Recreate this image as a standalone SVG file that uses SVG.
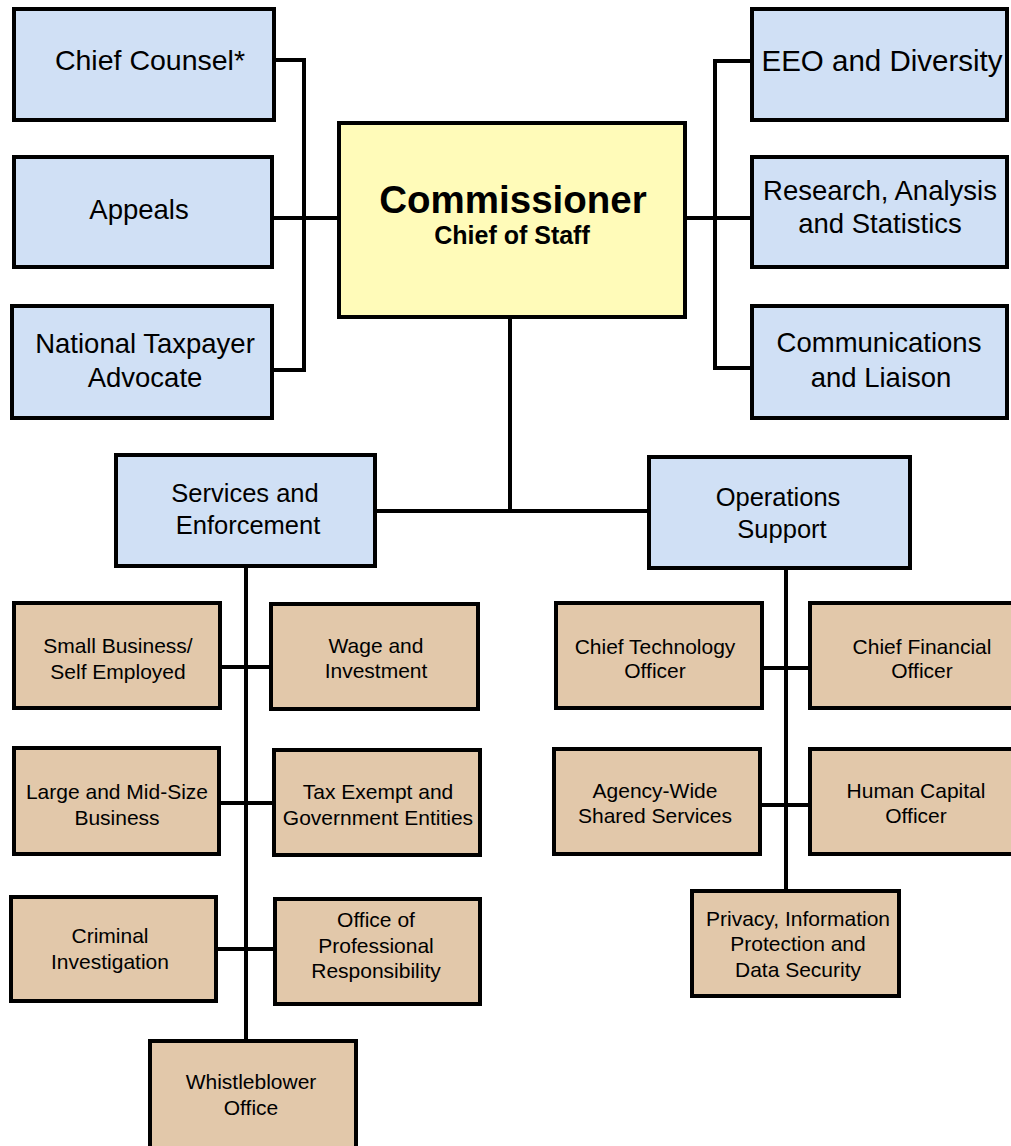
<svg xmlns="http://www.w3.org/2000/svg" width="1011" height="1146" viewBox="0 0 1011 1146">
  <style>
    .box rect { stroke: #000; stroke-width: 4; }
    .blue rect { fill: #D0E0F5; }
    .tan rect { fill: #E2C8AA; }
    .head rect { fill: #FFFBB9; }
    text { font-family: "Liberation Sans", Arial, sans-serif; fill: #000; text-anchor: middle; }
    .t1 { font-size: 27.5px; }
    .t2 { font-size: 25.5px; }
    .t3 { font-size: 21px; }
    .big { font-size: 38.5px; font-weight: bold; }
    .sub { font-size: 25px; font-weight: bold; }
    #connectors path { fill: none; stroke: #000; stroke-width: 4; }
  </style>
  <rect width="1011" height="1146" fill="#fff"/>

  <g id="connectors">
    <path d="M276,60 H304 V370 H274"/>
    <path d="M274,218 H339"/>
    <path d="M752,61 H715 V368 H752"/>
    <path d="M687,218 H752"/>
    <path d="M510,319 V511"/>
    <path d="M377,511 H649"/>
    <path d="M246,568 V1041"/>
    <path d="M222,667 H271"/>
    <path d="M221,803 H274"/>
    <path d="M218,949 H275"/>
    <path d="M786,570 V891"/>
    <path d="M764,668 H810"/>
    <path d="M762,805 H810"/>
  </g>

  <g id="commissioner" class="box head">
    <rect x="339" y="123" width="346" height="194"/>
    <text class="big" x="513" y="213">Commissioner</text>
    <text class="sub" x="512" y="244">Chief of Staff</text>
  </g>

  <g id="chief-counsel" class="box blue">
    <rect x="14" y="9" width="260" height="111"/>
    <text class="t1" x="150" y="70" style="font-size:28.5px">Chief Counsel*</text>
  </g>
  <g id="appeals" class="box blue">
    <rect x="14" y="157" width="258" height="110"/>
    <text class="t1" x="139" y="219">Appeals</text>
  </g>
  <g id="national-taxpayer-advocate" class="box blue">
    <rect x="12" y="306" width="260" height="112"/>
    <text class="t1" x="145" y="353">National Taxpayer</text>
    <text class="t1" x="145" y="387">Advocate</text>
  </g>

  <g id="eeo-diversity" class="box blue">
    <rect x="752" y="9" width="255" height="111"/>
    <text class="t1" x="882" y="71" style="font-size:29.5px">EEO and Diversity</text>
  </g>
  <g id="research-analysis-statistics" class="box blue">
    <rect x="752" y="157" width="255" height="110"/>
    <text class="t1" x="880" y="200">Research, Analysis</text>
    <text class="t1" x="880" y="233">and Statistics</text>
  </g>
  <g id="communications-liaison" class="box blue">
    <rect x="752" y="306" width="255" height="112"/>
    <text class="t1" x="879" y="352">Communications</text>
    <text class="t1" x="881" y="387">and Liaison</text>
  </g>

  <g id="services-enforcement" class="box blue">
    <rect x="116" y="455" width="259" height="111"/>
    <text class="t2" x="245" y="502">Services and</text>
    <text class="t2" x="248" y="534">Enforcement</text>
  </g>
  <g id="operations-support" class="box blue">
    <rect x="649" y="457" width="261" height="111"/>
    <text class="t2" x="778" y="506">Operations</text>
    <text class="t2" x="782" y="538">Support</text>
  </g>

  <g id="small-business-self-employed" class="box tan">
    <rect x="14" y="603" width="206" height="105"/>
    <text class="t3" x="118" y="653">Small Business/</text>
    <text class="t3" x="118" y="679">Self Employed</text>
  </g>
  <g id="wage-investment" class="box tan">
    <rect x="271" y="604" width="207" height="105"/>
    <text class="t3" x="376" y="653">Wage and</text>
    <text class="t3" x="376" y="678">Investment</text>
  </g>
  <g id="large-mid-size-business" class="box tan">
    <rect x="14" y="748" width="205" height="106"/>
    <text class="t3" x="117" y="799">Large and Mid-Size</text>
    <text class="t3" x="117" y="825">Business</text>
  </g>
  <g id="tax-exempt-government-entities" class="box tan">
    <rect x="274" y="750" width="206" height="105"/>
    <text class="t3" x="378" y="799">Tax Exempt and</text>
    <text class="t3" x="378" y="825">Government Entities</text>
  </g>
  <g id="criminal-investigation" class="box tan">
    <rect x="11" y="897" width="205" height="104"/>
    <text class="t3" x="110" y="943">Criminal</text>
    <text class="t3" x="110" y="969">Investigation</text>
  </g>
  <g id="office-professional-responsibility" class="box tan">
    <rect x="275" y="899" width="205" height="105"/>
    <text class="t3" x="376" y="927">Office of</text>
    <text class="t3" x="376" y="953">Professional</text>
    <text class="t3" x="376" y="978">Responsibility</text>
  </g>
  <g id="whistleblower-office" class="box tan">
    <rect x="150" y="1041" width="206" height="120"/>
    <text class="t3" x="251" y="1089">Whistleblower</text>
    <text class="t3" x="251" y="1115">Office</text>
  </g>

  <g id="chief-technology-officer" class="box tan">
    <rect x="556" y="603" width="206" height="105"/>
    <text class="t3" x="655" y="654">Chief Technology</text>
    <text class="t3" x="655" y="678">Officer</text>
  </g>
  <g id="chief-financial-officer" class="box tan">
    <rect x="810" y="603" width="210" height="105"/>
    <text class="t3" x="922" y="654">Chief Financial</text>
    <text class="t3" x="922" y="678">Officer</text>
  </g>
  <g id="agency-wide-shared-services" class="box tan">
    <rect x="554" y="749" width="206" height="105"/>
    <text class="t3" x="655" y="798">Agency-Wide</text>
    <text class="t3" x="655" y="823">Shared Services</text>
  </g>
  <g id="human-capital-officer" class="box tan">
    <rect x="810" y="749" width="210" height="105"/>
    <text class="t3" x="916" y="798">Human Capital</text>
    <text class="t3" x="916" y="823">Officer</text>
  </g>
  <g id="privacy-information-protection" class="box tan">
    <rect x="692" y="891" width="207" height="105"/>
    <text class="t3" x="798" y="926">Privacy, Information</text>
    <text class="t3" x="798" y="951">Protection and</text>
    <text class="t3" x="798" y="977">Data Security</text>
  </g>
</svg>
